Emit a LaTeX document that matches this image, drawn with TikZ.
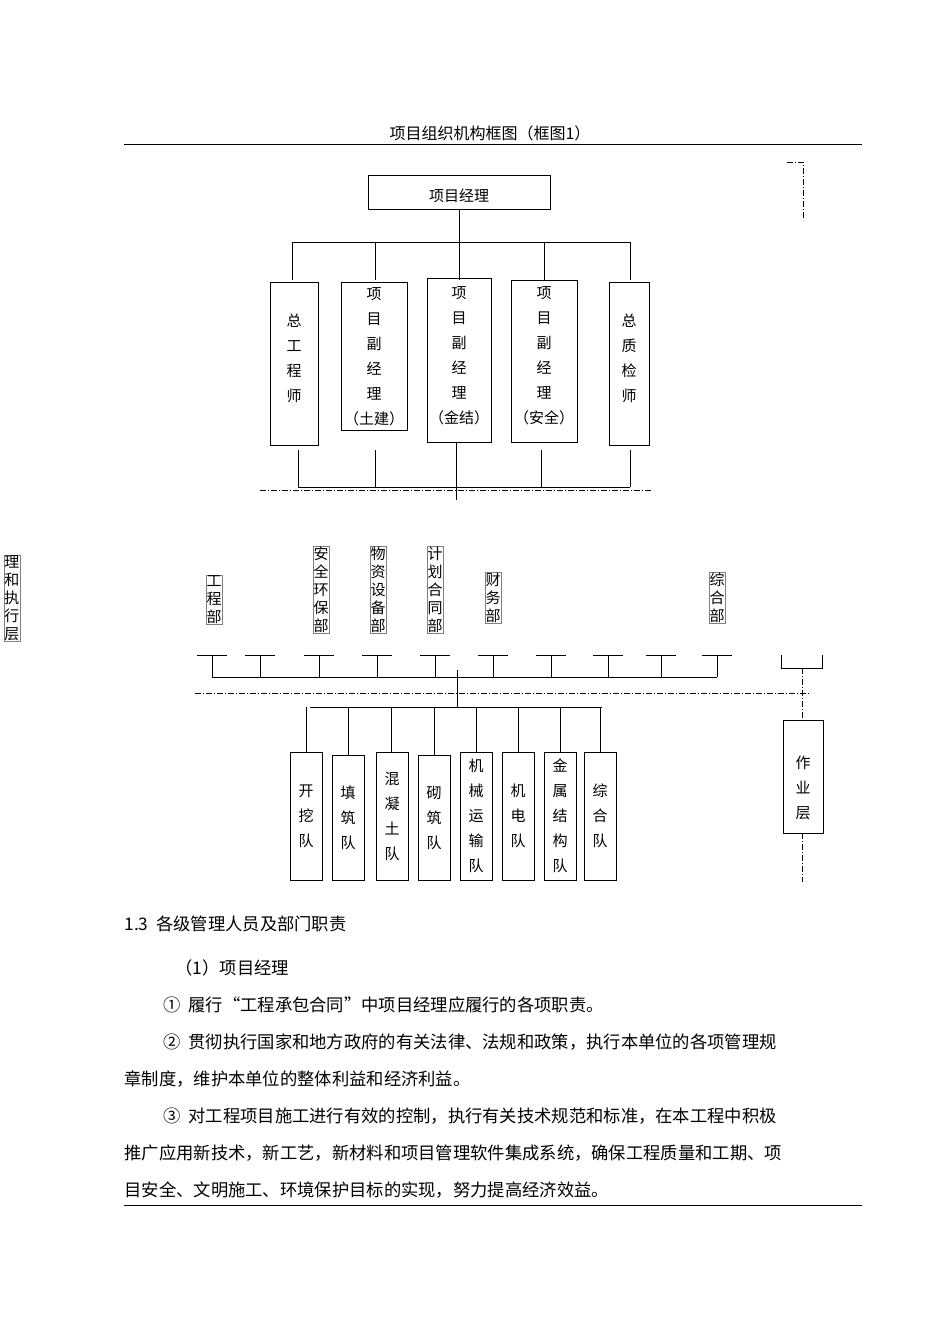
\documentclass[tikz,border=0pt]{standalone}
\usepackage{fontspec}
\setmainfont{Noto Sans CJK SC}
\begin{document}
\begin{tikzpicture}[x=1pt,y=-1pt,line width=1pt,
  bx/.style={draw,thick},
  vt/.style={font=\fontsize{15}{25}\selectfont,align=center,inner sep=0pt},
  lb/.style={draw=gray,line width=0.4pt,font=\fontsize{15}{18}\selectfont,align=center,inner sep=0.5pt},
  dd/.style={line width=0.7pt,dash pattern=on 6pt off 2pt on 1pt off 2pt},
  para/.style={anchor=west,font=\fontsize{17.3}{20}\selectfont,inner sep=0pt}]
\useasboundingbox (0,0) rectangle (950,1344);
\node[font=\fontsize{16}{18}\selectfont] (title) at (490,133) {项目组织机构框图（框图1）};
\draw[line width=0.7pt] (124,144) -- (862,144);
\draw[dd] (787,162) -- (803,162) -- (803,220);
% manager
\draw[bx] (368,175) rectangle (550,209);
\node[font=\fontsize{15}{18}\selectfont] (pm) at (459,196) {项目经理};
\draw (459,209) -- (459,242);
\draw (292,242) -- (630,242);
\foreach \x in {292,375,459,544,630} \draw (\x,242) -- (\x,280);
\draw[bx] (270,282) rectangle (318,445); \node[vt] (a1) at (294,358) {总\\工\\程\\师};
\draw[bx] (341,282) rectangle (407,430); \node[vt] (a2) at (374,357) {项\\目\\副\\经\\理\\（土建）};
\draw[bx] (427,278) rectangle (491,442); \node[vt] (a3) at (459,356) {项\\目\\副\\经\\理\\（金结）};
\draw[bx] (511,280) rectangle (577,442); \node[vt] (a4) at (544,356) {项\\目\\副\\经\\理\\（安全）};
\draw[bx] (609,282) rectangle (649,445); \node[vt] (a5) at (629,358) {总\\质\\检\\师};
\foreach \x in {298,375,541,630} \draw (\x,450) -- (\x,487);
\draw (456,442) -- (456,500);
\draw (298,487) -- (630,487);
\draw[dd] (260,490) -- (652,490);
% left label
\node[lb] (lay) at (12,598) {理\\和\\执\\行\\层};
% departments
\node[lb] (d1) at (214,600) {工\\程\\部};
\node[lb] (d2) at (321,590) {安\\全\\环\\保\\部};
\node[lb] (d3) at (378,590) {物\\资\\设\\备\\部};
\node[lb] (d4) at (435,590) {计\\划\\合\\同\\部};
\node[lb] (d5) at (493,598) {财\\务\\部};
\node[lb] (d6) at (717,598) {综\\合\\部};
\foreach \x in {212,260,319,377,435,493,551,608,661,717} {
  \draw (\x-15,655) -- (\x+15,655); \draw (\x,655) -- (\x,677);}
\draw (212,677) -- (717,677);
\draw (457,670) -- (457,707);
\draw[dd] (195,693) -- (810,693);
\draw (781,655) -- (781,668) -- (822,668) -- (822,655);
\draw[dd] (802,668) -- (802,720);
\draw[dd] (802,833) -- (802,882);
\draw[bx] (783,720) rectangle (823,833); \node[vt] (w) at (803,788) {作\\业\\层};
% teams
\draw (310,707) -- (602,707);
\foreach \x/\l/\t/\tx in {306/290/752/开\\挖\\队, 348/332/755/填\\筑\\队, 391/376/752/混\\凝\\土\\队, 434/418/755/砌\\筑\\队, 476/460/752/机\\械\\运\\输\\队, 518/502/752/机\\电\\队, 560/544/752/金\\属\\结\\构\\队, 600/584/752/综\\合\\队} {
  \draw (\x,707) -- (\x,\t);
  \draw[bx] (\l,\t) rectangle (\l+32,880);
  \node[vt] at (\l+16,{(\t+880)/2}) {\tx};
}
% text
\node[para] (h) at (124,924) {1.3\ \ 各级管理人员及部门职责};
\node[para] (p0) at (175,968) {（1）项目经理};
\node[para] (p1) at (163,1005) {①\ \ 履行“工程承包合同”中项目经理应履行的各项职责。};
\node[para] (p2) at (163,1042) {②\ \ 贯彻执行国家和地方政府的有关法律、法规和政策，执行本单位的各项管理规};
\node[para] (p3) at (124,1079) {章制度，维护本单位的整体利益和经济利益。};
\node[para] (p4) at (163,1116) {③\ \ 对工程项目施工进行有效的控制，执行有关技术规范和标准，在本工程中积极};
\node[para] (p5) at (124,1153) {推广应用新技术，新工艺，新材料和项目管理软件集成系统，确保工程质量和工期、项};
\node[para] (p6) at (124,1190) {目安全、文明施工、环境保护目标的实现，努力提高经济效益。};
\draw[line width=0.7pt] (124,1205) -- (862,1205);
\end{tikzpicture}
\end{document}
